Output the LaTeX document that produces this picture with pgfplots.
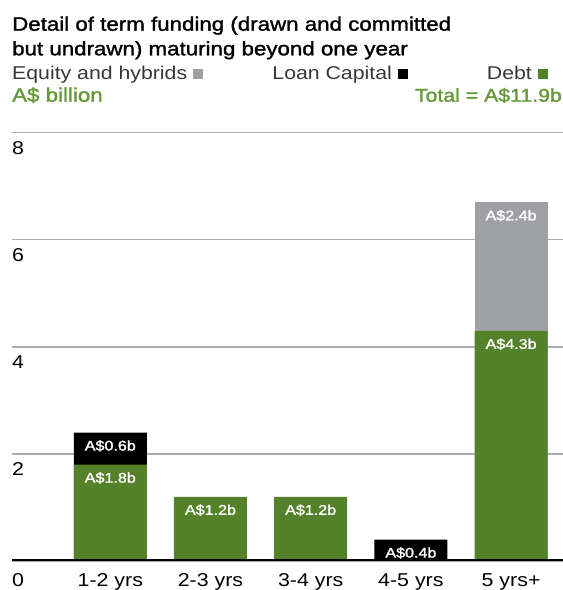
\documentclass[border=0pt]{standalone}
\usepackage{fontspec}
\setmainfont{Liberation Sans}[FakeStretch=1.15]
\newfontfamily\medfont{Liberation Sans}[FakeStretch=1.15, FakeBold=1.5]
\usepackage{pgfplots}
\pgfplotsset{compat=1.18}
\definecolor{debtgreen}{RGB}{84,130,42}
\definecolor{textgreen}{RGB}{100,152,56}
\definecolor{eqgrey}{RGB}{158,160,163}
\definecolor{gridgrey}{RGB}{172,172,172}
\definecolor{legtext}{RGB}{55,55,55}
\begin{document}
\begin{tikzpicture}
\useasboundingbox (0pt,0pt) rectangle (563pt,590pt);
% title and legend lines
\node[anchor=base west, inner sep=0pt] at (12pt,559.3pt) {\fontsize{19.4}{22}\medfont Detail of term funding (drawn and committed};
\node[anchor=base west, inner sep=0pt] at (12pt,534.7pt) {\fontsize{19.4}{22}\medfont but undrawn) maturing beyond one year};
\node[anchor=base west, inner sep=0pt, text=legtext] at (12pt,510.7pt) {\fontsize{18.5}{22}\selectfont Equity and hybrids \textcolor{eqgrey}{\rule{10pt}{10pt}}};
\node[anchor=base east, inner sep=0pt, text=legtext] at (408pt,510.7pt) {\fontsize{18.5}{22}\selectfont Loan Capital \textcolor{black}{\rule{10pt}{10pt}}};
\node[anchor=base east, inner sep=0pt, text=legtext] at (548pt,510.7pt) {\fontsize{18.5}{22}\selectfont Debt \textcolor{debtgreen}{\rule{10pt}{10pt}}};
\node[anchor=base west, inner sep=0pt, text=textgreen] at (12pt,488.3pt) {\fontsize{19.4}{22}\medfont A\$ billion};
\node[anchor=base east, inner sep=0pt, text=textgreen] at (562pt,488.3pt) {\fontsize{18.5}{22}\medfont Total = A\$11.9b};
\begin{axis}[
  at={(12pt,29pt)}, anchor=south west,
  scale only axis, width=551pt, height=428.3pt,
  xmin=-0.981, xmax=4.518, ymin=0, ymax=8,
  axis line style={draw=none},
  major tick style={draw=none}, minor tick style={draw=none},
  ytick={2,4,6,8},
  ymajorgrids, grid style={gridgrey, line width=1.3pt},
  extra y ticks={0},
  extra y tick style={yticklabel style={yshift=-4.4pt}},
  /pgf/number format/assume math mode=true,
  yticklabel style={anchor=base west, inner sep=0pt, yshift=-21.3pt, font=\fontsize{18.6}{20}\selectfont},
  xtick={0,1,2,3,4},
  xticklabels={1-2 yrs, 2-3 yrs, 3-4 yrs, 4-5 yrs, 5 yrs+},
  xticklabel style={anchor=base, inner sep=0pt, yshift=-21pt, font=\fontsize{18.6}{20}\selectfont},
  ybar, bar shift=0pt, bar width=73pt,
  point meta=explicit symbolic,
  nodes near coords,
  nodes near coords align={center},
  every node near coord/.append style={anchor=base, yshift=-18pt, text=white, inner sep=0pt, font=\fontsize{14}{16}\medfont},
]
% tops of the segments (cumulative heights): equity on debt, loan capital on debt
\addplot[fill=eqgrey, draw=none] coordinates {(4,6.7) [A\$2.4b]};
\addplot[fill=black, draw=none] coordinates {(0,2.4) [A\$0.6b] (3,0.4) [A\$0.4b]};
\addplot[fill=debtgreen, draw=none] coordinates {(0,1.8) [A\$1.8b] (1,1.2) [A\$1.2b] (2,1.2) [A\$1.2b] (4,4.3) [A\$4.3b]};
\draw[black, line width=3.5pt] (axis description cs:0,0) -- (axis description cs:1,0);
\end{axis}
\end{tikzpicture}
\end{document}
